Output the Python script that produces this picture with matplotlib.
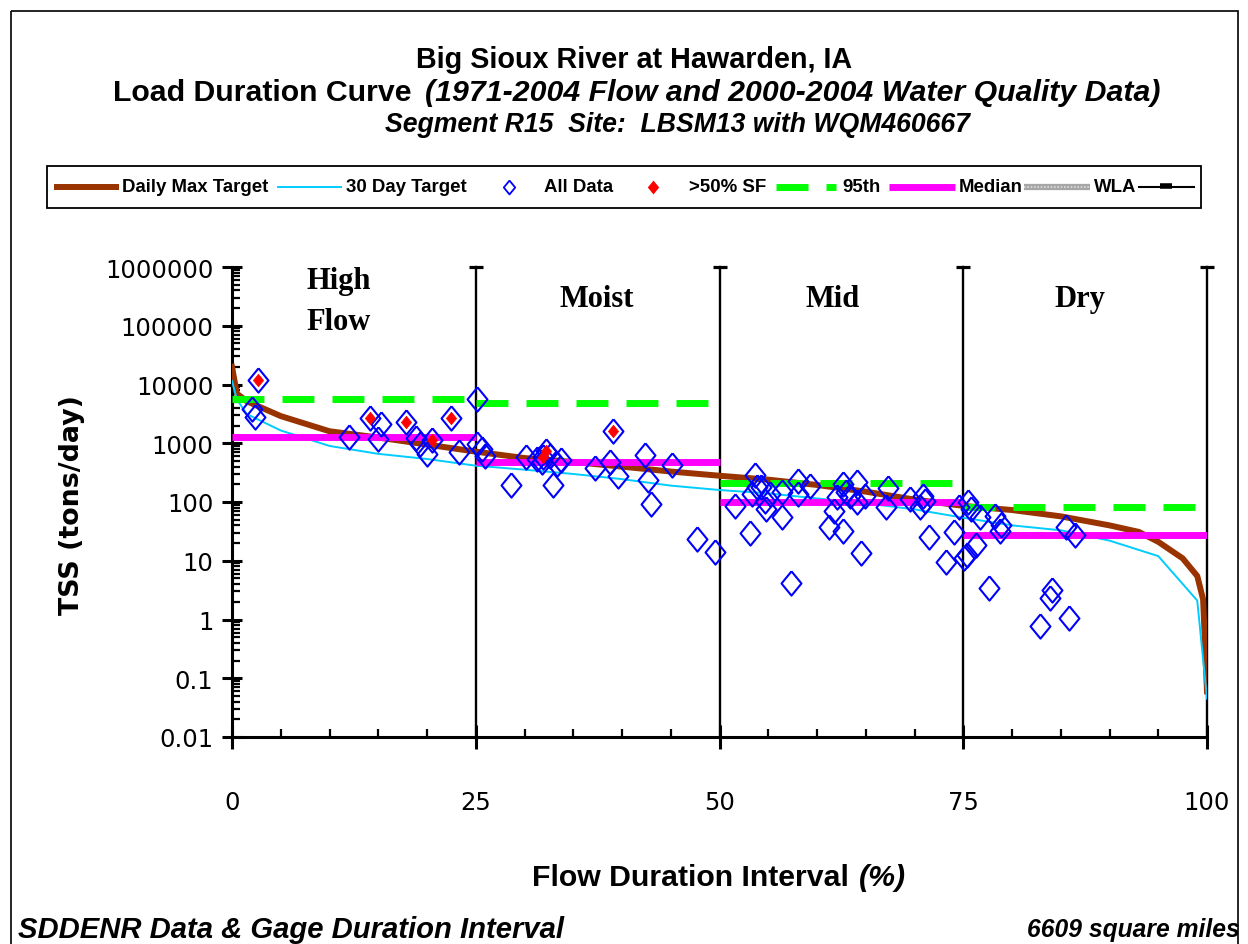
import matplotlib
matplotlib.use("Agg")
import matplotlib.pyplot as plt
from matplotlib import font_manager
from matplotlib.patches import Rectangle
from matplotlib.ticker import LogLocator, MultipleLocator, NullFormatter

# ---- values ----
pct_max = [0, 0.5, 1.5, 5, 10, 15, 20, 25, 30, 35, 40, 45, 50, 55, 60, 65,
           70, 75, 80, 85, 90, 93, 95, 97.5, 99, 99.6, 100]
daily_max = [20000, 7000, 5200, 2900, 1600, 1250, 950, 720, 560, 480, 400,
             330, 280, 240, 195, 150, 110, 86, 73, 57, 40, 31, 21, 11, 5.5,
             2.2, 0.06]

pct_30 = [0, 0.5, 1.5, 5, 10, 15, 20, 25, 30, 35, 40, 45, 50, 55, 60, 65,
          70, 75, 80, 85, 90, 95, 99, 100]
day_30 = [11500, 5600, 3150, 1650, 900, 660, 540, 415, 355, 300, 245, 190,
          160, 140, 115, 95, 75, 54, 40, 33, 22, 12, 2.1, 0.045]

zone_lo = [0, 25, 50, 75]
zone_hi = [25, 50, 75, 100]
p95 = [5700, 4850, 210, 83]
median = [1280, 475, 101, 27.4]
zone_names = ["High\nFlow", "Moist", "Mid", "Dry"]
zone_label_x = [7.6, 37.4, 61.6, 87.0]
boundaries = [25, 50, 75, 100]

all_x = [2.64, 2.0, 2.36, 14.2, 15.3, 15.0, 12.0, 17.8, 18.9, 19.3, 20.5,
         20.0, 22.5, 23.3, 25.1, 25.1, 25.6, 25.9, 28.6, 30.2, 32.2, 31.9,
         31.8, 32.6, 33.3, 32.9, 31.3, 33.7, 37.2, 39.1, 38.8, 39.6, 42.4,
         42.7, 43.0, 45.1, 47.7, 49.5, 51.6, 53.1, 53.6, 53.3, 54.7, 54.8,
         54.3, 53.8, 55.2, 56.4, 56.4, 57.3, 58.1, 58.1, 59.3, 61.2, 61.7,
         62.0, 62.7, 62.7, 63.0, 64.1, 63.4, 64.1, 64.9, 64.5, 67.3, 67.1,
         69.5, 70.6, 71.1, 70.9, 71.5, 73.2, 74.0, 74.6, 75.5, 75.8, 76.7,
         76.3, 75.4, 75.1, 78.3, 78.9, 78.8, 77.6, 85.5, 86.5, 84.1, 83.9,
         82.9, 85.8]
all_y = [12070, 3830, 2770, 2660, 2130, 1180, 1290, 2330, 1210, 970, 1135,
         656, 2660, 719, 5670, 970, 798, 615, 195, 577, 748, 577,
         474, 615, 444, 195, 530, 520, 375, 1597, 485, 281, 631,
         240, 92, 431, 23.4, 14.3, 86, 29.3, 288, 137, 105, 76,
         178, 178, 137, 55, 146, 4.2, 231, 137, 190, 37, 71,
         120, 202, 32.5, 146, 216, 128, 100, 128, 13.4, 171, 81,
         112, 81, 105, 128, 25.7, 9.4, 31.3, 83, 100, 76, 55,
         18.5, 12.5, 11, 58, 40, 32.5, 3.4, 37, 27.4, 3.2, 2.3,
         0.78, 1.05]

sf_x = [2.64, 14.2, 17.8, 20.5, 22.5, 32.2, 31.9, 39.1]
sf_y = [12070, 2660, 2330, 1135, 2660, 748, 577, 1597]

ytick_vals = [0.01, 0.1, 1, 10, 100, 1000, 10000, 100000, 1000000]
ytick_labels = ["0.01", "0.1", "1", "10", "100", "1000", "10000", "100000",
                "1000000"]
xtick_vals = [0, 25, 50, 75, 100]

BROWN = "#993300"
CYAN = "#00ccff"
GREEN = "#00ff00"
MAGENTA = "#ff00ff"
BLUE = "#0000ff"

names = {f.name for f in font_manager.fontManager.ttflist}
SANS = "Liberation Sans" if "Liberation Sans" in names else "DejaVu Sans"
SERIF = "Liberation Serif" if "Liberation Serif" in names else "DejaVu Serif"
plt.rcParams["font.family"] = "DejaVu Sans"

W, H = 1248, 945
fig = plt.figure(figsize=(W / 100, H / 100), dpi=100)
renderer = fig.canvas.get_renderer()

# diamond a bit taller than wide, as in the original
diamond = [(0, 1), (0.82, 0), (0, -1), (-0.82, 0), (0, 1)]

ax = fig.add_axes([232 / W, 1 - 738 / H, (1207 - 232) / W, (738 - 268) / H])
ax.set_yscale("log")
ax.set_xlim(0, 100)
ax.set_ylim(0.01, 1e6)
ax.patch.set_alpha(0)

ax.plot(pct_max, daily_max, color=BROWN, lw=4.3, zorder=3)
ax.plot(pct_30, day_30, color=CYAN, lw=1.4, zorder=3)
for lo, hi, v in zip(zone_lo, zone_hi, p95):
    ax.plot([lo, hi], [v, v], color=GREEN, lw=5, ls=(0, (4.6, 2.6)), zorder=3)
for lo, hi, v in zip(zone_lo, zone_hi, median):
    ax.plot([lo, hi], [v, v], color=MAGENTA, lw=5, zorder=3,
            solid_capstyle="butt")

ax.plot(all_x, all_y, ls="none", marker=diamond, mfc="none", mec=BLUE,
        ms=17.5, mew=1.5, zorder=4)
ax.plot(sf_x, sf_y, ls="none", marker=diamond, color="red", mec="red",
        ms=9, mew=0.5, zorder=5)

# flow zone boundaries with a cap on top
for b in boundaries:
    ax.plot([b, b], [0.01, 1e6], color="black", lw=1.7, zorder=2, clip_on=False)
ax.plot(boundaries, [1e6] * len(boundaries), ls="none", marker="_", ms=10,
        mew=2.3, color="black", clip_on=False, zorder=6)

for x, name in zip(zone_label_x, zone_names):
    if "\n" in name:
        ax.text(x, 0.928, name, transform=ax.get_xaxis_transform(),
                family=SERIF, weight="bold", fontsize=22, ha="left",
                va="center", linespacing=1.55)
    else:
        ax.text(x, 0.932, name, transform=ax.get_xaxis_transform(),
                family=SERIF, weight="bold", fontsize=22, ha="center",
                va="center")

for s in ["top", "right"]:
    ax.spines[s].set_visible(False)
for s in ["left", "bottom"]:
    ax.spines[s].set_linewidth(2.2)

ax.set_yticks(ytick_vals)
ax.set_yticklabels(ytick_labels)
ax.yaxis.set_minor_locator(LogLocator(base=10, subs=range(2, 10), numticks=20))
ax.yaxis.set_minor_formatter(NullFormatter())
ax.set_xticks(xtick_vals)
ax.set_xticklabels([str(v) for v in xtick_vals])
ax.xaxis.set_minor_locator(MultipleLocator(5))
ax.tick_params(which="major", direction="inout", length=15, width=2.2,
               labelsize=17.5)
ax.tick_params(which="minor", direction="in", length=5.5, width=1.6)
ax.tick_params(axis="y", which="major", pad=6)
ax.tick_params(axis="x", which="major", pad=30, length=17)

# ---- overlay in pixel coordinates for titles, legend and notes ----
ov = fig.add_axes([0, 0, 1, 1], zorder=-1)
ov.set_xlim(0, W)
ov.set_ylim(H, 0)
ov.axis("off")


def put(x, y, s, width=None, height=None, **kw):
    t = ov.text(x, y, s, **kw)
    if width or height:
        ext = t.get_window_extent(renderer)
        scale = width / ext.width if width else height / ext.height
        t.set_fontsize(t.get_fontsize() * scale)
    return t


t1 = put(634, 60, "Big Sioux River at Hawarden, IA", width=437, family=SANS,
         weight="bold", ha="center", va="center", fontsize=18)
tfs = t1.get_fontsize()

# second title line: plain part + italic part share one size, fit to the span
ta = put(0, 93, "Load Duration Curve", family=SANS, weight="bold",
         ha="right", va="center", fontsize=tfs)
tb = put(0, 93, "(1971-2004 Flow and 2000-2004 Water Quality Data)",
         family=SANS, weight="bold", style="italic", ha="left", va="center",
         fontsize=tfs)
wa = ta.get_window_extent(renderer).width
wb = tb.get_window_extent(renderer).width
k = (1160 - 113 - 13) / (wa + wb)
ta.set_fontsize(tfs * k)
tb.set_fontsize(tfs * k)
ta.set_x(113 + wa * k)
tb.set_x(113 + wa * k + 13)

put(677, 125, "Segment R15  Site:  LBSM13 with WQM460667", width=585,
    family=SANS, weight="bold", style="italic", ha="center", va="center",
    fontsize=18)

xl = put(849, 878, "Flow Duration Interval", width=318, family=SANS,
         weight="bold", ha="right", va="center", fontsize=18)
put(859, 878, "(%)", family=SANS, weight="bold", style="italic",
    ha="left", va="center", fontsize=xl.get_fontsize())
put(72, 505, "TSS (tons/day)", height=220, family="DejaVu Sans",
    weight="bold", rotation=90, ha="center", va="center", fontsize=18)

put(18, 930, "SDDENR Data & Gage Duration Interval", width=545, family=SANS,
    weight="bold", style="italic", ha="left", va="center", fontsize=18)
put(1240, 930, "6609 square miles", width=212, family=SANS, weight="bold",
    style="italic", ha="right", va="center", fontsize=18)

# outer frame
ov.add_patch(Rectangle((11, 12), 1227, 950, fill=False, lw=1.2, ec="black",
                       clip_on=False))

# legend
ov.add_patch(Rectangle((47, 167), 1154, 42, fill=False, lw=1.3, ec="black"))
ly = 188
ov.plot([54, 119], [ly, ly], color=BROWN, lw=4.3, solid_capstyle="butt")
ov.plot([278, 341], [ly, ly], color=CYAN, lw=1.4)
ov.plot([509], [ly], ls="none", marker=diamond, mfc="none", mec=BLUE, ms=10,
        mew=1.3)
ov.plot([653], [ly], ls="none", marker=diamond, color="red", ms=10, mew=0)
ov.plot([776, 808], [ly, ly], color=GREEN, lw=5, solid_capstyle="butt")
ov.plot([826, 836], [ly, ly], color=GREEN, lw=5, solid_capstyle="butt")
ov.plot([889, 955], [ly, ly], color=MAGENTA, lw=5, solid_capstyle="butt")
ov.plot([1024, 1090], [ly, ly], color="#a6a6a6", lw=4.5, solid_capstyle="butt")
ov.plot([1024, 1090], [ly, ly], color="#dddddd", lw=1.2, ls=(0, (1, 1)))
ov.plot([1139, 1194], [ly, ly], color="black", lw=1.5)
ov.plot([1166], [ly - 1], ls="none", marker="_", ms=8, mew=4, color="black")

leg = put(122, ly, "Daily Max Target", width=146, family=SANS,
          weight="bold", ha="left", va="center", fontsize=12)
lfs = leg.get_fontsize()
for x, s in [(346, "30 Day Target"), (544, "All Data"), (689, ">50% SF"),
             (842, "95th"), (959, "Median"), (1094, "WLA")]:
    put(x, ly, s, family=SANS, weight="bold", ha="left", va="center",
        fontsize=lfs)

fig.savefig("out.png", dpi=100, facecolor="white")
